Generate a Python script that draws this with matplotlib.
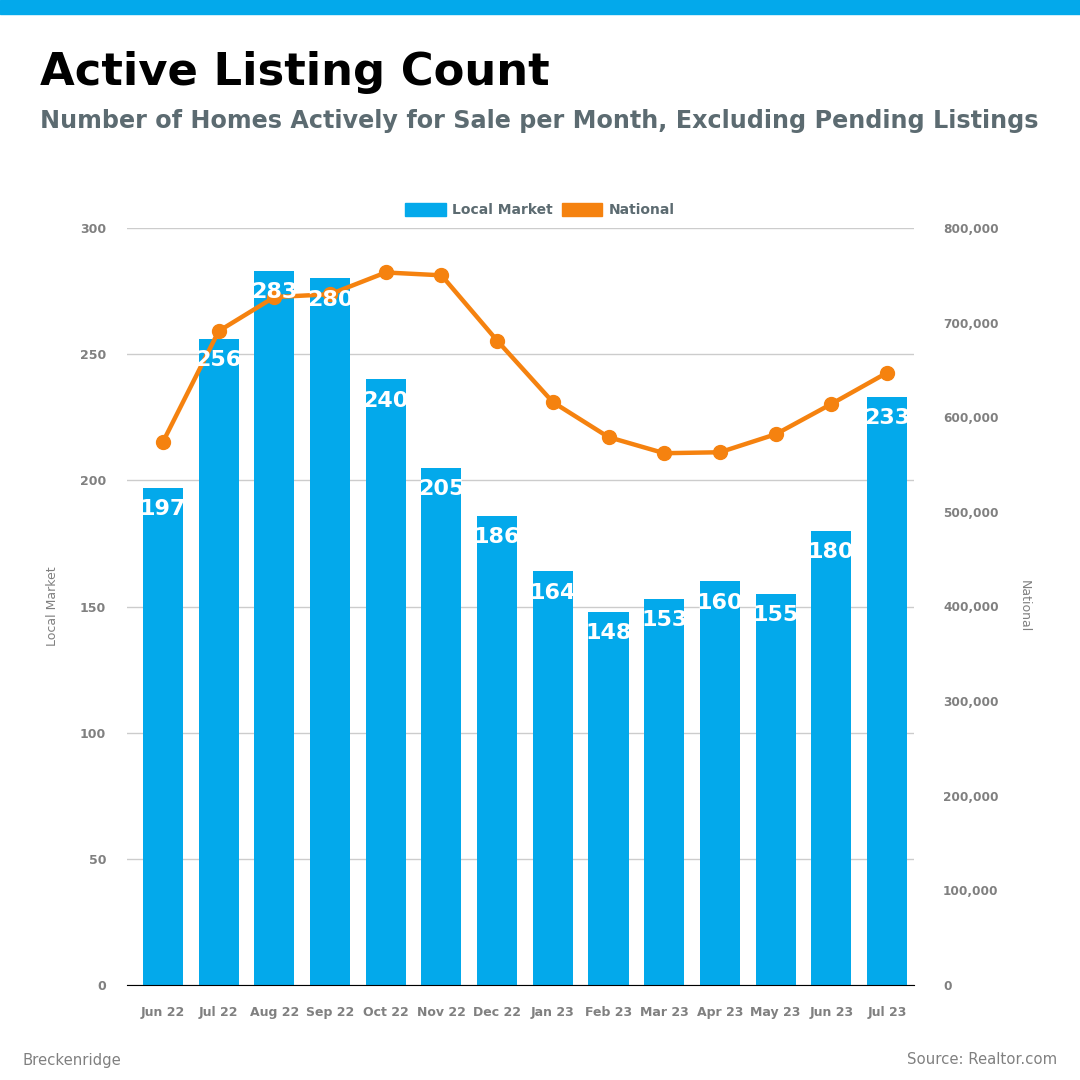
import matplotlib.pyplot as plt
from matplotlib.patches import Patch
from matplotlib.ticker import FuncFormatter

plt.rcParams['font.family'] = ['DejaVu Sans']

months = ['Jun 22', 'Jul 22', 'Aug 22', 'Sep 22', 'Oct 22', 'Nov 22', 'Dec 22',
          'Jan 23', 'Feb 23', 'Mar 23', 'Apr 23', 'May 23', 'Jun 23', 'Jul 23']
local_market = [197, 256, 283, 280, 240, 205, 186, 164, 148, 153, 160, 155, 180, 233]
national = [574000, 691000, 727000, 730000, 753000, 750000, 681000,
            616000, 579000, 562000, 563000, 582000, 614000, 647000]

BLUE = '#03a9eb'
ORANGE = '#f5820f'
GRAY = '#808080'
SUB = '#5c6b71'

fig = plt.figure(figsize=(10.8, 10.8), dpi=100)

# top strip
fig.patches.append(plt.Rectangle((0, 1 - 14 / 1080), 1, 14 / 1080, transform=fig.transFigure,
                                 color=BLUE, zorder=0))

fig.text(40 / 1080, 1 - 85 / 1080, 'Active Listing Count', fontsize=32.3, fontweight='bold',
         color='black', ha='left', va='baseline')
fig.text(40 / 1080, 1 - 128 / 1080,
         'Number of Homes Actively for Sale per Month, Excluding Pending Listings',
         fontsize=17.22, fontweight='bold', color=SUB, ha='left', va='baseline')

ax = fig.add_axes([127 / 1080, 95 / 1080, 787 / 1080, 757 / 1080])
ax2 = ax.twinx()

x = range(len(months))
ax.bar(x, local_market, width=0.72, color=BLUE, zorder=2)
ax.set_xlim(-0.646, 13.485)
ax.set_ylim(0, 300)
ax.set_yticks([0, 50, 100, 150, 200, 250, 300])
ax.grid(axis='y', color='#cccccc', linewidth=1, zorder=0)
ax.set_axisbelow(True)

ax2.plot(x, national, color=ORANGE, linewidth=3.2, marker='o', markersize=10, zorder=3)
ax2.set_ylim(0, 800000)
ax2.set_yticks(range(0, 800001, 100000))
ax2.yaxis.set_major_formatter(FuncFormatter(lambda v, p: f'{int(v):,}'))

# bar labels drawn on top of the line
for i, v in enumerate(local_market):
    ax2.text(i, v - 4.5, str(v), transform=ax.transData, ha='center', va='top',
             fontsize=16, fontweight='bold', color='white', zorder=5)

ax.set_xticks(list(x))
ax.set_xticklabels(months)

for a in (ax, ax2):
    for s in a.spines.values():
        s.set_visible(False)
    a.tick_params(length=0, labelsize=9, labelcolor=GRAY)
    for lbl in a.get_xticklabels() + a.get_yticklabels():
        lbl.set_fontweight('bold')
ax.spines['bottom'].set_visible(True)
ax.spines['bottom'].set_color('black')
ax.tick_params(axis='x', pad=15)
ax.tick_params(axis='y', pad=15)
ax2.tick_params(axis='y', pad=21, labelsize=8.7)

ax.set_ylabel('Local Market', fontsize=9, color=GRAY, labelpad=15)
ax2.set_ylabel('National', fontsize=9, color=GRAY, rotation=-90, labelpad=23)

handles = [Patch(color=BLUE, label='Local Market'), Patch(color=ORANGE, label='National')]
leg = fig.legend(handles=handles, loc='center', bbox_to_anchor=(540 / 1080, 1 - 210 / 1080),
                 ncol=2, frameon=False, handlelength=2.9, handleheight=1.1,
                 handletextpad=0.5, columnspacing=0.6, fontsize=10)
for t in leg.get_texts():
    t.set_fontweight('bold')
    t.set_color(SUB)

fig.text(22 / 1080, 1 - 1060 / 1080, 'Breckenridge', fontsize=10.7, color=GRAY,
         ha='left', va='center')
fig.text(1057 / 1080, 1 - 1060 / 1080, 'Source: Realtor.com', fontsize=10.7, color=GRAY,
         ha='right', va='center')

fig.savefig('out.png', dpi=100)
